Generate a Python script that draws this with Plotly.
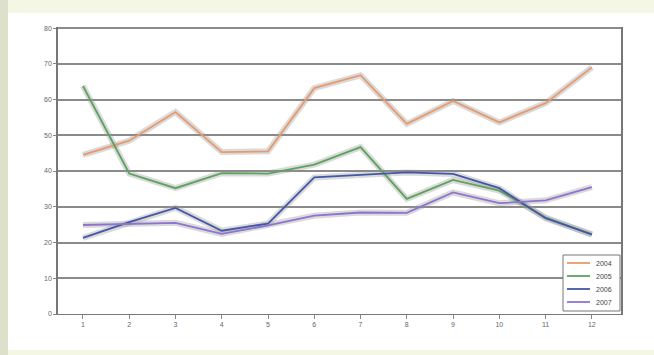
import plotly.graph_objects as go

# Monthly values for four years
months = [1, 2, 3, 4, 5, 6, 7, 8, 9, 10, 11, 12]
month_labels = ["1", "2", "3", "4", "5", "6", "7", "8", "9", "10", "11", "12"]
series_names = ["2004", "2005", "2006", "2007"]

orange_vals = [44.5, 48.5, 56.5, 45.3, 45.5, 63.2, 66.8, 53.2, 59.6, 53.6, 59.0, 69.0]
green_vals = [63.8, 39.3, 35.2, 39.4, 39.3, 41.8, 46.7, 32.2, 37.5, 34.5, 27.0, 22.2]
blue_vals = [21.3, 25.7, 29.7, 23.3, 25.3, 38.2, 38.9, 39.6, 39.2, 35.2, 26.8, 22.3]
purple_vals = [24.9, 25.3, 25.5, 22.4, 24.8, 27.5, 28.4, 28.3, 34.0, 31.0, 31.8, 35.5]

y_ticks = [0, 10, 20, 30, 40, 50, 60, 70, 80]

line_colors = ["#E89A6C", "#5DA35D", "#4257A8", "#8E74CF"]
all_vals = [orange_vals, green_vals, blue_vals, purple_vals]

fig = go.Figure()

# soft grey shadow under each line
for vals in all_vals:
    fig.add_trace(go.Scatter(
        x=months, y=vals, mode="lines",
        line=dict(color="rgba(150,150,150,0.35)", width=6),
        hoverinfo="skip", showlegend=False,
    ))

for name, vals, col in zip(series_names, all_vals, line_colors):
    fig.add_trace(go.Scatter(
        x=months, y=vals, mode="lines", name=name,
        line=dict(color=col, width=1.8), showlegend=False,
    ))

W, H = 654, 355
ml, mr, mt, mb = 58, 33, 27, 41
pw, ph = W - ml - mr, H - mt - mb


def px_x(p):
    return (p - ml) / pw


def px_y(p):
    return (H - mb - p) / ph


shapes = [
    # white chart panel
    dict(type="rect", xref="paper", yref="paper", layer="below",
         x0=px_x(8), x1=px_x(654), y0=px_y(350), y1=px_y(13),
         fillcolor="white", line=dict(width=0)),
    # darker strip on the left edge
    dict(type="rect", xref="paper", yref="paper", layer="below",
         x0=px_x(0), x1=px_x(8), y0=px_y(355), y1=px_y(0),
         fillcolor="#DDE1CB", line=dict(width=0)),
    # compact legend box
    dict(type="rect", xref="paper", yref="paper", layer="above",
         x0=px_x(563), x1=px_x(620), y0=px_y(311), y1=px_y(255),
         fillcolor="white", line=dict(color="#777777", width=1)),
]

annotations = []
legend_rows = [263, 276, 289, 302]
for name, col, row in zip(series_names, line_colors, legend_rows):
    shapes.append(dict(type="line", xref="paper", yref="paper", layer="above",
                       x0=px_x(567), x1=px_x(590), y0=px_y(row), y1=px_y(row),
                       line=dict(color=col, width=1.8)))
    annotations.append(dict(xref="paper", yref="paper", x=px_x(594), y=px_y(row),
                            xanchor="left", yanchor="middle", text=name,
                            showarrow=False,
                            font=dict(family="Liberation Sans", size=7, color="#444444")))

fig.update_layout(
    width=W, height=H,
    margin=dict(l=ml, r=mr, t=mt, b=mb),
    paper_bgcolor="#F4F7E4",
    plot_bgcolor="white",
    shapes=shapes,
    annotations=annotations,
    showlegend=False,
    xaxis=dict(
        range=[0.46, 12.63], tickmode="array", tickvals=months,
        ticktext=month_labels, showgrid=False, zeroline=False,
        ticks="outside", ticklen=4, tickcolor="#888888",
        tickfont=dict(family="Liberation Sans", size=7, color="#666666"),
        showline=True, linecolor="#777777", linewidth=1,
    ),
    yaxis=dict(
        range=[0, 80.3], tickmode="array", tickvals=y_ticks,
        showgrid=True, gridcolor="#8A8A8A", gridwidth=1.6,
        zeroline=False, ticks="outside", ticklen=3, tickcolor="#888888",
        tickfont=dict(family="Liberation Sans", size=7, color="#666666"),
        showline=True, linecolor="#777777", linewidth=1.5, mirror=True,
    ),
)

fig.write_html("out.html")
